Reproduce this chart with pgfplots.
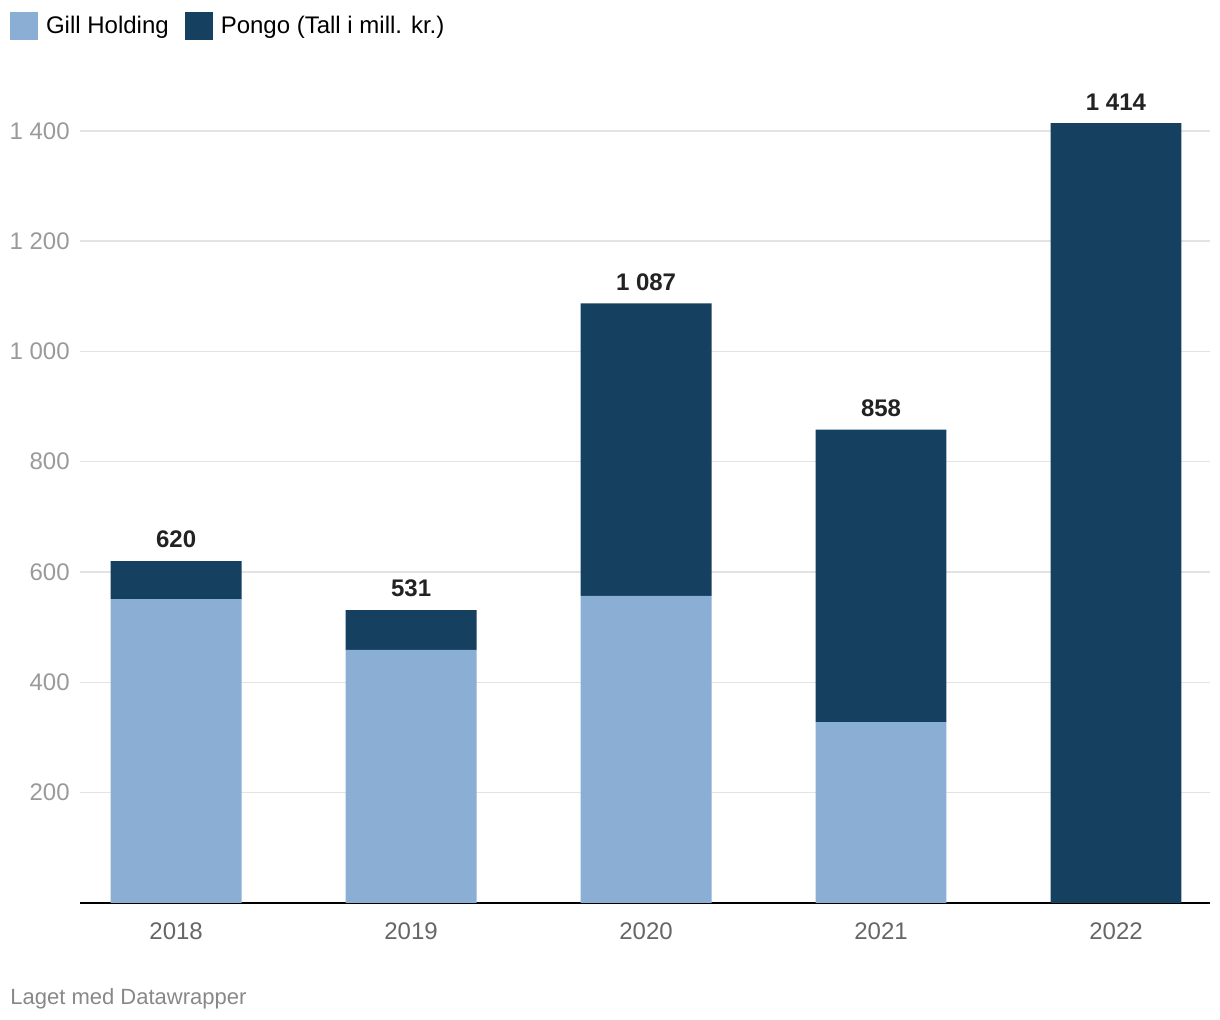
\documentclass[border=0pt]{standalone}
\usepackage{pgfplots}
\pgfplotsset{compat=1.18}
\usepackage{fontspec}
\setmainfont{Liberation Sans}
\definecolor{gill}{HTML}{8AAED4}
\definecolor{pongo}{HTML}{15405F}
\definecolor{gridc}{HTML}{E3E3E3}
\definecolor{ytc}{HTML}{9A9A9A}
\definecolor{xtc}{HTML}{666666}
\definecolor{foot}{HTML}{888888}
\definecolor{lab}{HTML}{222222}
\begin{document}
\begin{tikzpicture}
\path[use as bounding box] (0,0) rectangle (610pt,510pt);
\begin{axis}[
  at={(40pt,58.5pt)}, anchor=south west,
  scale only axis, width=565pt, height=406.5pt,
  ybar stacked, bar width=0.557,
  xmin=-0.409, xmax=4.4, ymin=0, ymax=1474,
  xtick={0,1,2,3,4}, xticklabels={2018,2019,2020,2021,2022},
  ytick={200,400,600,800,1000,1200,1400},
  yticklabels={200,400,600,800,1 000,1 200,1 400},
  axis x line=bottom, axis y line=left,
  x axis line style={-, black, line width=1pt},
  y axis line style={draw=none},
  tick style={draw=none},
  ymajorgrids, grid style={gridc, line width=0.75pt},
  yticklabel style={font=\fontsize{12}{14}\selectfont, text=ytc, anchor=east, xshift=0.5pt},
  xticklabel style={font=\fontsize{12}{14}\selectfont, text=xtc, yshift=-4pt},
  legend style={draw=none, at={(-0.0619,1.0787)}, anchor=west, legend columns=2,
    font=\fontsize{12}{14}\selectfont, inner sep=0pt, outer sep=0pt,
    /tikz/every even column/.append style={column sep=6pt}},
  legend image code/.code={\fill[#1] (0pt,-7pt) rectangle (14pt,7pt); \path (16pt,0pt);},
  legend cell align=left,
]
\addplot[fill=gill, draw=none] coordinates {(0,551) (1,459) (2,557) (3,328) (4,0)};
\addplot[fill=pongo, draw=none]
  coordinates {(0,69) (1,72) (2,530) (3,530) (4,1414)};
\legend{Gill Holding, Pongo (Tall i mill. kr.)}
\end{axis}
\begin{axis}[
  at={(40pt,58.5pt)}, anchor=south west,
  scale only axis, width=565pt, height=406.5pt,
  xmin=-0.409, xmax=4.4, ymin=0, ymax=1474,
  hide axis,
]
\addplot[draw=none, mark=none,
  point meta=explicit symbolic,
  nodes near coords,
  nodes near coords style={font=\bfseries\fontsize{12}{14}\selectfont, text=lab, anchor=south, yshift=3pt}]
  coordinates {(0,620)[620] (1,531)[531] (2,1087)[1 087] (3,858)[858] (4,1414)[1 414]};
\end{axis}
\node[anchor=base west, inner sep=0pt, text=foot, font=\fontsize{11}{13}\selectfont] at (5pt,7.5pt) {Laget med Datawrapper};
\end{tikzpicture}
\end{document}
